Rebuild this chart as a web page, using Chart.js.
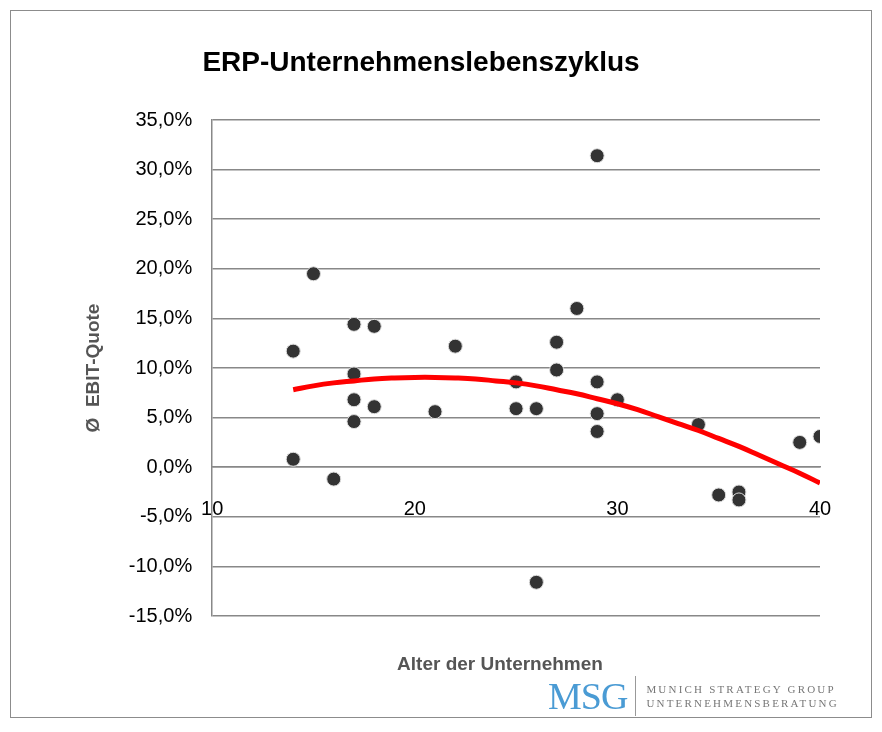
<!DOCTYPE html><html><head><meta charset="utf-8">
<script src="https://cdn.jsdelivr.net/npm/chart.js@4"></script>
<style>
body{margin:0;background:#fff;font-family:"Liberation Sans",Arial,sans-serif}
#frame{position:absolute;left:10px;top:10px;width:860px;height:706px;border:1px solid #8c8c8c}
#wrap{position:absolute;left:0;top:0;width:882px;height:732px}
#logo{position:absolute;left:548px;top:676px;display:flex;align-items:center}
#msg{font-family:"Liberation Serif",serif;font-size:38px;color:#4a9bd4;letter-spacing:-1px;padding-right:8px;border-right:1px solid #999;line-height:40px}
#sub{font-family:"Liberation Serif",serif;font-size:11px;color:#777;letter-spacing:2.2px;padding-left:10px;line-height:14px}
</style></head><body>
<div id="frame"></div>
<div id="wrap"><canvas id="c" width="882" height="732"></canvas></div>
<div id="logo"><div id="msg">MSG</div><div id="sub">MUNICH STRATEGY GROUP<br>UNTERNEHMENSBERATUNG</div></div>
<script>
const ages=[14,14,15,16,17,17,17,17,18,18,21,22,25,25,26,26,27,27,28,29,29,29,29,30,34,35,36,36,39,40];
const ebit=[11.7,0.8,19.5,-1.2,14.4,9.4,6.8,4.6,14.2,6.1,5.6,12.2,8.6,5.9,5.9,-11.6,12.6,9.8,16.0,31.4,8.6,5.4,3.6,6.8,4.3,-2.8,-2.5,-3.3,2.5,3.1];
const trendX=[14,15,16,17,18,19,20,21,22,23,24,25,26,27,28,29,30,31,32,33,34,35,36,37,38,39,40];
const trendY=[7.8,8.2,8.5,8.7,8.9,9.0,9.05,9.05,9.0,8.9,8.7,8.5,8.2,7.8,7.4,6.9,6.4,5.8,5.1,4.4,3.7,2.9,2.1,1.2,0.3,-0.6,-1.6];
const xTicks=[10,20,30,40];
const yTicks=[35,30,25,20,15,10,5,0,-5,-10,-15];
const fmt=v=>v.toFixed(1).replace('.',',')+'%';
new Chart(document.getElementById('c'),{
 type:'scatter',
 data:{datasets:[
  {data:ages.map((a,i)=>({x:a,y:ebit[i]})),backgroundColor:'#333',borderColor:'#ddd',borderWidth:1,pointRadius:7,order:1},
  {type:'line',data:trendX.map((a,i)=>({x:a,y:trendY[i]})),borderColor:'#f00',borderWidth:5,pointRadius:0,tension:0.4,order:0}
 ]},
 options:{responsive:false,animation:false,
  layout:{padding:{left:78,right:62,top:120,bottom:116}},
  plugins:{legend:{display:false},tooltip:{enabled:false},title:{display:false}},
  scales:{
   x:{type:'linear',min:10,max:40,position:{y:0},
    afterBuildTicks:s=>{s.ticks=xTicks.map(v=>({value:v}))},
    grid:{display:false,drawTicks:false},border:{color:'#888',width:1.5},
    ticks:{color:'#000',font:{size:20,family:'Liberation Sans'},padding:30}},
   y:{min:-15,max:35,
    afterBuildTicks:s=>{s.ticks=yTicks.map(v=>({value:v}))},
    grid:{color:'#888',lineWidth:1.5,drawTicks:false},border:{color:'#888',width:1.5},
    ticks:{color:'#000',font:{size:20,family:'Liberation Sans'},padding:20,callback:v=>fmt(v)},
    title:{display:true,text:'Ø  EBIT-Quote',color:'#555',font:{size:19,weight:'bold',family:'Liberation Sans'},padding:{bottom:4}}}
  }},
 plugins:[{id:'xt',afterDraw(ch){const c=ch.ctx,a=ch.chartArea;c.save();c.font='bold 19px "Liberation Sans"';c.fillStyle='#555';c.textAlign='center';c.fillText('Alter der Unternehmen',500,670);
  c.font='bold 28px "Liberation Sans"';c.fillStyle='#000';c.fillText('ERP-Unternehmenslebenszyklus',421,71);c.restore();}}]
});
</script></body></html>
